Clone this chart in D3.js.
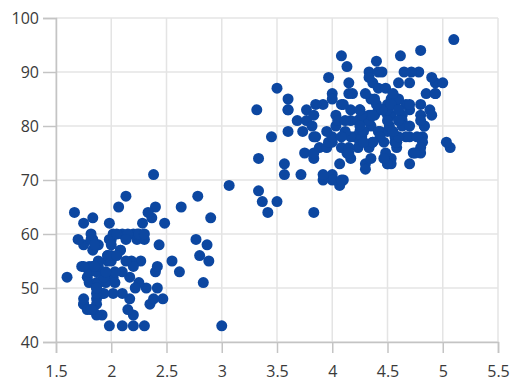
<!DOCTYPE html>
<html>
<head>
<meta charset="utf-8">
<script src="https://cdn.jsdelivr.net/npm/d3@7"></script>
<style>
  body { margin: 0; background: #fff; }
  svg text { font-family: "Open Sans", "Noto Sans", sans-serif; }
</style>
</head>
<body>
<div id="chart"></div>
<script>
const xTicks = [1.5, 2, 2.5, 3, 3.5, 4, 4.5, 5, 5.5];
const yTicks = [40, 50, 60, 70, 80, 90, 100];

// [eruption length, waiting time]
const shortEruptions = [
  [1.800,54],[2.283,62],[2.883,55],[1.950,51],[1.833,54],[1.750,47],[2.167,52],[1.750,62],
  [1.600,52],[1.800,51],[1.750,47],[3.067,69],[1.967,55],[2.017,52],[1.867,48],[1.833,59],
  [1.883,58],[1.750,58],[2.100,53],[2.000,59],[1.833,54],[1.733,54],[1.667,64],[2.233,59],
  [1.750,48],[1.817,60],[2.067,65],[1.967,56],[1.983,62],[2.017,60],[2.633,65],[2.167,48],
  [2.200,60],[1.867,50],[1.833,63],[1.867,51],[2.483,62],[2.100,49],[1.867,47],[1.783,52],
  [2.300,59],[1.700,59],[2.317,50],[1.817,59],[2.617,53],[1.967,56],[1.917,45],[2.267,55],
  [1.867,45],[2.800,56],[1.833,46],[1.883,51],[2.033,53],[2.233,60],[1.983,59],[2.017,49],
  [1.800,53],[2.400,65],[1.800,53],[2.200,45],[2.000,58],[2.367,63],[1.933,52],[1.917,49],
  [2.083,57],[2.417,50],[1.883,55],[2.033,51],[1.833,46],[2.183,55],[1.833,57],[2.250,51],
  [2.100,60],[1.867,53],[1.783,46],[1.933,49],[2.383,71],[1.867,49],[2.400,53],[2.000,55],
  [1.867,50],[1.750,54],[2.417,54],[2.217,50],[1.883,54],[1.850,54],[2.333,64],[2.350,47],
  [2.900,63],[2.083,57],[2.133,67],[2.200,54],[2.000,56],[1.850,58],[1.983,43],[2.250,60],
  [2.150,46],[1.817,46],
  [2.100,43],[2.200,43],[2.300,43],[3.000,43],[2.783,67],[2.767,59],[2.867,58],[2.433,58],
  [2.550,55],[2.833,51],[2.467,48],[2.383,48],
  [2.050,60],[2.150,60],[2.133,59],[2.300,60],[2.050,56],[2.133,55],[1.950,53]
];

const longEruptions = [
  [3.600,79],[3.333,74],[4.533,85],[4.700,88],[3.600,85],[4.350,85],[3.917,84],[4.200,78],
  [4.700,83],[4.800,84],[4.250,79],[3.450,78],[4.533,74],[3.600,83],[4.083,76],[3.850,78],
  [4.433,79],[4.300,73],[4.467,77],[3.367,66],[4.033,80],[3.833,74],[4.833,80],[4.783,90],
  [4.350,80],[4.567,84],[4.533,73],[3.317,83],[3.833,64],[4.633,82],[4.800,75],[4.716,90],
  [4.833,80],[4.883,83],[3.717,71],[4.567,77],[4.317,81],[4.500,84],[4.800,82],[4.400,92],
  [4.167,78],[4.700,78],[4.700,73],[4.033,82],[4.500,79],[4.000,71],[5.067,76],[4.567,78],
  [3.883,76],[3.600,83],[4.133,75],[4.333,82],[4.100,70],[4.067,73],[4.933,88],[3.950,76],
  [4.517,80],[4.000,86],[4.333,90],[4.817,78],[4.300,72],[4.667,84],[3.750,75],[4.900,82],
  [4.367,88],[4.500,83],[4.050,81],[4.700,84],[4.850,86],[3.683,81],[4.733,75],[4.900,89],
  [4.417,79],[4.633,81],[4.600,85],[4.417,87],[4.067,69],[4.250,77],[4.600,88],[3.767,81],
  [4.500,82],[4.650,90],[4.167,83],[4.333,89],[4.383,82],[4.933,86],[3.733,79],[4.233,81],
  [4.533,82],[4.817,77],[4.333,76],[4.633,80],[5.100,96],[5.033,77],[4.000,77],[4.600,81],
  [3.567,71],[4.000,70],[4.500,81],[4.083,93],[3.967,89],[4.150,86],[3.833,78],[3.500,66],
  [4.583,76],[5.000,88],[4.617,93],[4.583,77],[3.333,68],[4.167,81],[4.333,81],[4.500,73],
  [4.000,85],[4.167,74],[4.583,77],[4.250,83],[3.767,83],[4.433,78],[4.083,84],[4.417,83],
  [4.800,81],[4.800,76],[4.100,84],[3.966,77],[4.233,81],[3.500,87],[4.366,77],[4.667,78],
  [4.350,82],[4.133,91],[4.600,78],[4.367,77],[3.850,84],[4.500,83],[4.700,80],[3.833,75],
  [3.417,64],[4.233,76],[4.800,94],[4.150,76],[4.267,82],[4.483,75],[4.000,78],[4.117,79],
  [4.083,78],[4.267,78],[3.917,70],[4.550,79],[4.083,70],[4.183,86],[4.450,90],[4.283,77],
  [3.950,79],[4.150,75],[4.933,86],[4.583,85],[3.833,82],[4.367,82],[4.350,74],[4.450,83],
  [3.567,73],[4.500,73],[4.150,88],[3.817,80],[3.917,71],[4.450,83],[4.283,79],[4.767,78],
  [4.533,84],[4.250,83],[4.750,75],[4.117,81],[4.417,90],[4.467,74],
  [4.300,86],[4.483,87],[4.550,86],[4.400,84],[4.250,80],[4.600,83],[4.383,85]
];

const margin = {top: 18, right: 28, bottom: 49, left: 56};
const width = 526 - margin.left - margin.right;
const height = 391 - margin.top - margin.bottom;

const svg = d3.select('#chart')
  .append('svg')
  .attr('width', 526)
  .attr('height', 391)
  .append('g')
  .attr('transform', `translate(${margin.left},${margin.top})`);

const x = d3.scaleLinear().domain([1.5, 5.5]).range([0, width]);
const y = d3.scaleLinear().domain([40, 100]).range([height, 0]);

// grid
svg.append('g')
  .selectAll('line')
  .data(xTicks)
  .enter()
  .append('line')
  .attr('x1', d => x(d)).attr('x2', d => x(d))
  .attr('y1', 0).attr('y2', height)
  .attr('stroke', '#e4e4e4')
  .attr('stroke-width', 1.5);

svg.append('g')
  .selectAll('line')
  .data(yTicks)
  .enter()
  .append('line')
  .attr('x1', 0).attr('x2', width)
  .attr('y1', d => y(d)).attr('y2', d => y(d))
  .attr('stroke', '#e4e4e4')
  .attr('stroke-width', 1.5);

const xAxis = svg.append('g')
  .attr('transform', `translate(0,${height})`)
  .call(d3.axisBottom(x).tickValues(xTicks).tickSize(11).tickPadding(13).tickFormat(d3.format('~g')));

const yAxis = svg.append('g')
  .call(d3.axisLeft(y).tickValues(yTicks).tickSize(13).tickPadding(4).tickFormat(d3.format('d')));

[xAxis, yAxis].forEach(a => {
  a.select('.domain').attr('stroke', '#c4c4c4').attr('stroke-width', 1.5);
  a.selectAll('.tick line').attr('stroke', '#c4c4c4').attr('stroke-width', 1.5);
  a.selectAll('.tick text')
    .attr('fill', '#3a3a3a')
    .style('font-size', '16px');
});

svg.append('g')
  .selectAll('circle')
  .data(shortEruptions.concat(longEruptions))
  .enter()
  .append('circle')
  .attr('cx', d => x(d[0]))
  .attr('cy', d => y(d[1]))
  .attr('r', 5.5)
  .attr('fill', '#0c47a1');
</script>
</body>
</html>
